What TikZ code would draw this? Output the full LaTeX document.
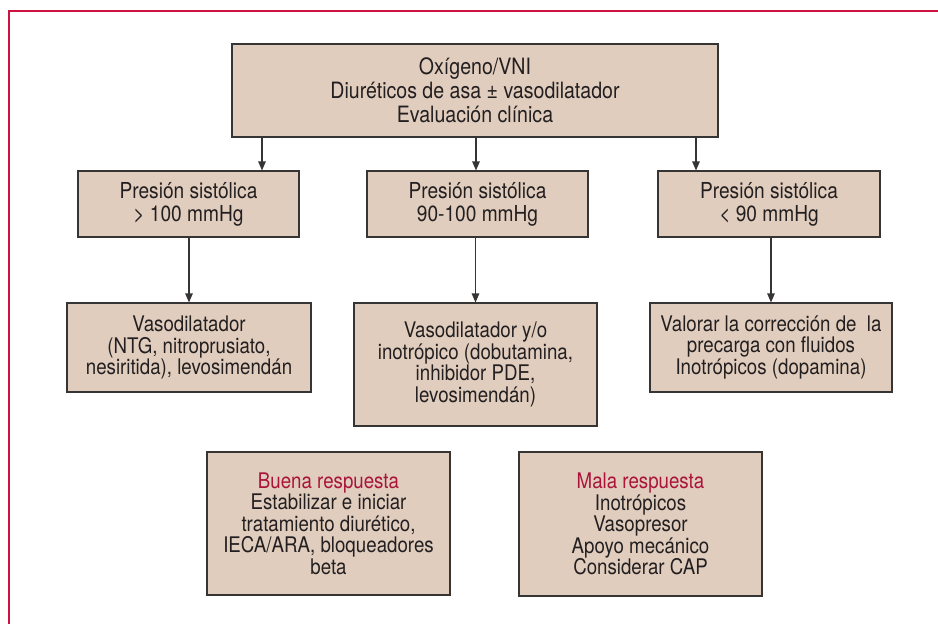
\documentclass[tikz,border=0pt]{standalone}
\usepackage{fontspec}
\setmainfont{TeX Gyre Heros}[FakeStretch=0.87]
\usetikzlibrary{arrows.meta}
\definecolor{boxfill}{RGB}{224,205,190}
\definecolor{boxline}{RGB}{55,52,52}
\definecolor{txt}{RGB}{35,31,32}
\definecolor{frame}{RGB}{204,18,62}
\definecolor{hl}{RGB}{170,20,58}
\begin{document}
\begin{tikzpicture}[x=1pt,y=1pt,
  box/.style={draw=boxline, fill=boxfill, line width=1.1pt, align=center,
    inner sep=0pt, text=txt, font=\fontsize{21.5}{21.5}\selectfont},
  arr/.style={draw=boxline, line width=1.1pt, -{Triangle[length=9pt,width=7.5pt]}}]
\useasboundingbox (0,0) rectangle (938,-624);
\draw[frame, line width=2pt] (8.5,-624) -- (8.5,-10.5) -- (938,-10.5);
\node[box, minimum width=486, minimum height=93, font=\fontsize{22.5}{24}\selectfont] (top) at (475,-90.5)
  {Oxígeno/VNI\\Diuréticos de asa ± vasodilatador\\Evaluación clínica};
\node[box, minimum width=221, minimum height=66, font=\fontsize{22}{23}\selectfont] (pa) at (188.5,-204)
  {Presión sistólica\\> 100 mmHg};
\node[box, minimum width=221, minimum height=66, font=\fontsize{22}{23}\selectfont] (pb) at (477.5,-204)
  {Presión sistólica\\90-100 mmHg};
\node[box, minimum width=222, minimum height=66, font=\fontsize{22}{23}\selectfont] (pc) at (769,-204)
  {Presión sistólica\\< 90 mmHg};
\node[box, minimum width=244, minimum height=89] (ta) at (189,-347.5)
  {Vasodilatador\\(NTG, nitroprusiato,\\nesiritida), levosimendán};
\node[box, minimum width=243, minimum height=123] (tb) at (475.5,-364.5)
  {Vasodilatador y/o\\inotrópico (dobutamina,\\inhibidor PDE,\\levosimendán)};
\node[box, minimum width=242, minimum height=89] (tc) at (771,-347.5)
  {Valorar la corrección de\ \ la\\precarga con fluidos\\Inotrópicos (dopamina)};
\node[box, minimum width=243, minimum height=143] (buena) at (328.5,-523.5)
  {\textcolor{hl}{Buena respuesta}\\Estabilizar e iniciar\\tratamiento diurético,\\IECA/ARA, bloqueadores\\beta};
\node[box, minimum width=243, minimum height=144] (mala) at (640.5,-524)
  {\textcolor{hl}{Mala respuesta}\\Inotrópicos\\Vasopresor\\Apoyo mecánico\\Considerar CAP};
\coordinate (x1) at (262,0);
\coordinate (x2) at (476,0);
\coordinate (x3) at (696,0);
\draw[arr] (top.south -| x1) -- (pa.north -| x1);
\draw[arr] (top.south -| x2) -- (pb.north -| x2);
\draw[arr] (top.south -| x3) -- (pc.north -| x3);
\draw[arr] (pa.south -| ta.north) -- (ta.north);
\draw[arr] (pb.south -| tb.north) -- (tb.north);
\draw[arr] (pc.south -| tc.north) -- (tc.north);
\end{tikzpicture}
\end{document}
